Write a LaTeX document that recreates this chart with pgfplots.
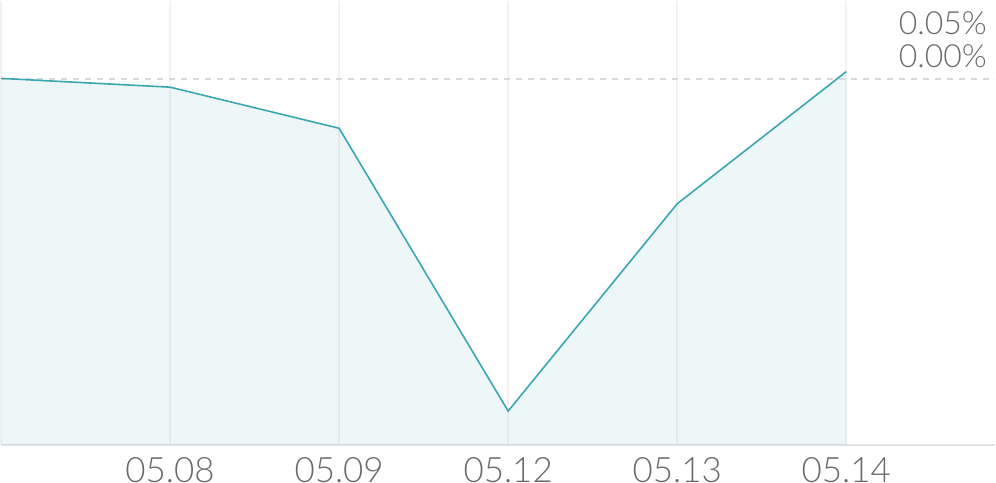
\documentclass[border=0pt]{standalone}
\usepackage{pgfplots}
\pgfplotsset{compat=1.18}
\usepackage{fontspec}
\setmainfont{Lato}[UprightFont=* Light]
\definecolor{teal1}{HTML}{39A6B0}
\definecolor{fillc}{HTML}{39A6B0}
\definecolor{gridc}{HTML}{F2F2F2}
\definecolor{basec}{HTML}{E3E3E3}
\definecolor{dashc}{HTML}{D9D9D9}
\definecolor{txt}{HTML}{6A6A6A}
\begin{document}
\begin{tikzpicture}
\begin{axis}[
  scale only axis,
  width=996pt, height=445pt,
  xmin=0, xmax=5.88,
  ymin=-0.5435, ymax=0.1153,
  axis x line*=bottom,
  axis y line*=right,
  x axis line style={draw=basec, line width=2pt, -},
  y axis line style={draw=none},
  major tick length=0pt,
  xtick={0,1,2,3,4,5},
  xticklabels={,05.08,05.09,05.12,05.13,05.14},
  xmajorgrids,
  grid style={draw=gridc, line width=2pt},
  ytick={0,0.05},
  yticklabels={0.00\%,0.05\%},
  /pgf/number format/assume math mode=true,
  xticklabel style={font=\fontsize{35}{40}\selectfont, text=txt, anchor=base, inner sep=0pt, yshift=-37pt},
  yticklabel style={font=\fontsize{32}{36}\selectfont, text=txt, anchor=base east, inner sep=0pt, xshift=-8pt, yshift=11pt},
  clip=false,
  axis on top=false,
]
\addplot[draw=none, fill=fillc, fill opacity=0.09] coordinates {
  (0,0.0005) (1,-0.0125) (2,-0.0735) (3,-0.493) (4,-0.1855) (5,0.0105) (5,-0.5435) (0,-0.5435)
} -- cycle;
\addplot[dashc, line width=2pt, dash pattern=on 6pt off 6pt] coordinates {(0,0) (5.88,0)};
\addplot[teal1, line width=1.6pt] coordinates {
  (0,0.0005) (1,-0.0125) (2,-0.0735) (3,-0.493) (4,-0.1855) (5,0.0105)
};
\path (rel axis cs:0,0) ++(0,-45pt);
\end{axis}
\end{tikzpicture}
\end{document}
